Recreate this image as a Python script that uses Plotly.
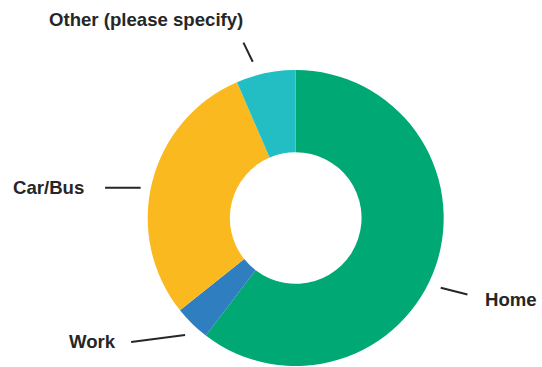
import math
import plotly.graph_objects as go

# ---- data ----
labels = ["Home", "Work", "Car/Bus", "Other (please specify)"]
values = [93, 6, 45, 10]
colors = ["#00A874", "#2F7FC0", "#FBB920", "#22BEC3"]

# ---- layout geometry (pixels) ----
W, H = 542, 367
CX, CY, R = 295.7, 218.0, 148.0
HOLE = 0.445
# leader-line placement tweaks (degrees) for inner/outer ends, and radii
inner_nudge = [7.0, -1.0, -3.0, -3.7]
outer_nudge = [5.3, 8.6, -5.0, -4.9]
r_inner = [161, 161, 158, 162]
r_outer = [188, 206, 193, 183]
label_gap = [16, 13, 19, 0]
TEXT_COLOR = "#262626"

fig = go.Figure(
    go.Pie(
        labels=labels,
        values=values,
        marker=dict(colors=colors, line=dict(width=0)),
        hole=HOLE,
        sort=False,
        direction="clockwise",
        rotation=0,
        textinfo="none",
        showlegend=False,
        domain=dict(
            x=[(CX - R) / W, (CX + R) / W],
            y=[1 - (CY + R) / H, 1 - (CY - R) / H],
        ),
    )
)


def to_paper(px, py):
    return px / W, 1 - py / H


def polar(angle_deg, r):
    a = math.radians(angle_deg)
    return CX + r * math.sin(a), CY - r * math.cos(a)


total = sum(values)
cum = 0
shapes, annotations = [], []
for i, (lab, v) in enumerate(zip(labels, values)):
    mid = (cum + v / 2) / total * 360
    cum += v
    x1, y1 = polar(mid + inner_nudge[i], r_inner[i])
    x2, y2 = polar(mid + outer_nudge[i], r_outer[i])
    px1, py1 = to_paper(x1, y1)
    px2, py2 = to_paper(x2, y2)
    shapes.append(dict(type="line", xref="paper", yref="paper",
                       x0=px1, y0=py1, x1=px2, y1=py2,
                       line=dict(color=TEXT_COLOR, width=2)))
    dx, dy = x2 - x1, y2 - y1
    if abs(dy) > 2 * abs(dx):
        tx, ty, xa = x2 + 2, y2 - 23, "right"
    elif dx > 0:
        tx, ty, xa = x2 + label_gap[i], y2 + 5, "left"
    else:
        tx, ty, xa = x2 - label_gap[i], y2, "right"
    ax_, ay_ = to_paper(tx, ty)
    annotations.append(dict(
        x=ax_, y=ay_, xref="paper", yref="paper",
        text="<b>" + lab + "</b>", showarrow=False,
        xanchor=xa, yanchor="middle",
        font=dict(family="Liberation Sans, Arial, sans-serif", size=18.6, color=TEXT_COLOR),
    ))

fig.update_layout(
    width=W, height=H,
    margin=dict(l=0, r=0, t=0, b=0),
    paper_bgcolor="white",
    plot_bgcolor="white",
    shapes=shapes,
    annotations=annotations,
)

fig.write_html(
    "out.html",
    config={"displayModeBar": False},
    post_script="document.body.style.margin='0px';document.body.style.overflow='hidden';",
)
